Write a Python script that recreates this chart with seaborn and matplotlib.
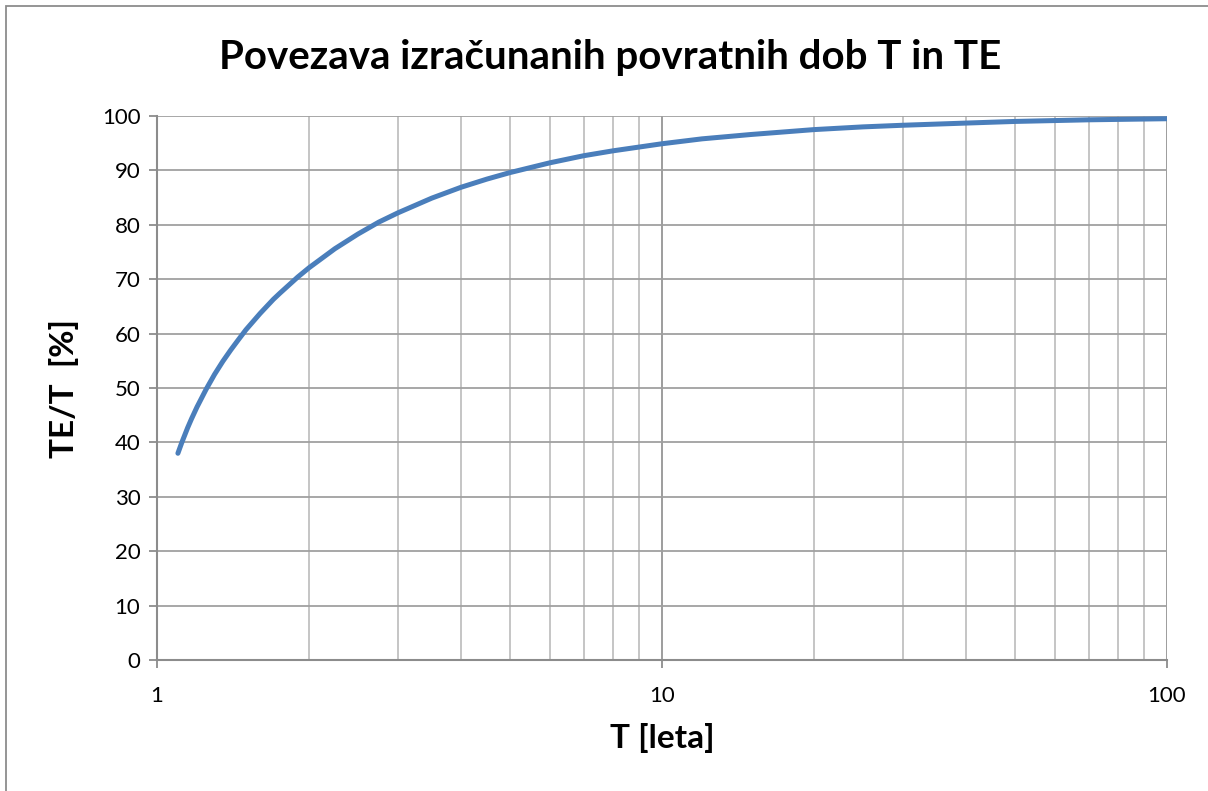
import matplotlib
matplotlib.use("Agg")
import matplotlib.pyplot as plt
import seaborn as sns
import pandas as pd
from matplotlib.patches import Rectangle
from matplotlib.ticker import FixedLocator, NullFormatter

# Data
T_years = [1.1, 1.12, 1.15, 1.17, 1.2, 1.25, 1.3, 1.35, 1.4, 1.45, 1.5, 1.6, 1.7, 1.75, 1.9, 2,
           2.25, 2.5, 2.75, 3, 3.5, 4, 4.5, 5, 6, 7, 8, 10, 12, 15, 20, 25, 30, 40, 50, 70, 100]
TE_over_T = [38.0, 40.0, 42.7, 44.3, 46.5, 49.7, 52.5, 54.9, 57.0, 58.9, 60.7, 63.7, 66.3, 67.4,
             70.4, 72.1, 75.6, 78.3, 80.5, 82.2, 84.9, 86.9, 88.4, 89.6, 91.4, 92.7, 93.6, 94.9,
             95.8, 96.6, 97.5, 98.0, 98.3, 98.7, 99.0, 99.3, 99.5]
y_ticks = [0, 10, 20, 30, 40, 50, 60, 70, 80, 90, 100]
x_major = [1, 10, 100]
x_minor = [2, 3, 4, 5, 6, 7, 8, 9, 20, 30, 40, 50, 60, 70, 80, 90]

title = "Povezava izračunanih povratnih dob T in TE"
xlabel = "T [leta]"
ylabel = "TE/T  [%]"

df = pd.DataFrame({"T": T_years, "ratio": TE_over_T})

sns.set_theme(style="white")
plt.rcParams["font.family"] = ["Lato", "DejaVu Sans"]

W, H = 1208, 791
fig = plt.figure(figsize=(W / 100, H / 100), dpi=100)
ax = fig.add_axes([157 / W, 1 - 660 / H, (1167 - 157) / W, (660 - 116) / H])

sns.lineplot(data=df, x="T", y="ratio", ax=ax, color="#4A7EBB", linewidth=3.6,
             solid_capstyle="round", zorder=5)

ax.set_xscale("log")
ax.set_xlim(1, 100)
ax.set_ylim(0, 100)
ax.xaxis.set_major_locator(FixedLocator(x_major))
ax.xaxis.set_minor_locator(FixedLocator(x_minor))
ax.xaxis.set_minor_formatter(NullFormatter())
ax.set_xticks(x_major)
ax.set_xticklabels([str(v) for v in x_major])
ax.set_yticks(y_ticks)
ax.set_yticklabels([str(v) for v in y_ticks])

ax.grid(which="major", axis="x", color="#959595", linewidth=1.3)
ax.grid(which="minor", axis="x", color="#c0c0c0", linewidth=1.3)
ax.grid(which="major", axis="y", color="#a0a0a0", linewidth=1.3)
ax.set_axisbelow(True)

for s in ["top", "right"]:
    ax.spines[s].set_visible(False)
ax.spines["left"].set_color("#8c8c8c")
ax.spines["bottom"].set_color("#8c8c8c")
ax.spines["left"].set_linewidth(1.5)
ax.spines["bottom"].set_linewidth(1.5)

ax.tick_params(axis="both", which="major", direction="out", length=6, width=1.3,
               color="#8c8c8c", labelsize=16, labelcolor="black")
ax.tick_params(axis="x", which="major", pad=13)
ax.tick_params(axis="y", which="major", pad=6)
ax.tick_params(axis="x", which="minor", length=0)
ax.tick_params(axis="y", left=True)
ax.tick_params(axis="x", bottom=True)

ax.set_xlabel(xlabel, fontsize=24, fontweight="bold", labelpad=12, color="black")
ax.set_ylabel(ylabel, fontsize=24, fontweight="bold", labelpad=16, color="black")

fig.text(610 / W, 1 - 57 / H, title, ha="center", va="center", fontsize=29,
         fontweight="bold", color="black")

fig.patches.append(Rectangle((6 / W, -0.1), 1.2, 1 - 6 / H + 0.1, transform=fig.transFigure,
                             fill=False, edgecolor="#8c8c8c", linewidth=1.3))

fig.savefig("out.png", dpi=100)
